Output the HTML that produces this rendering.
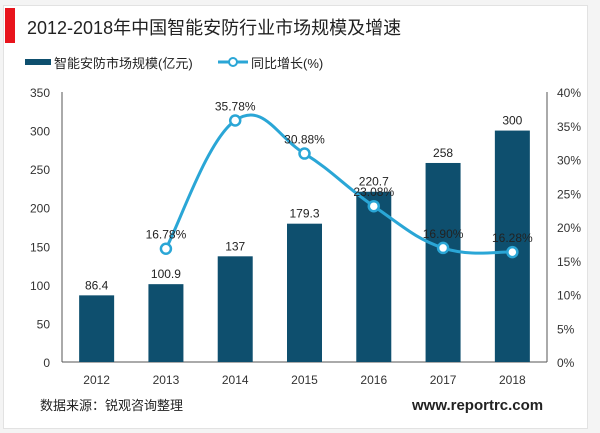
<!DOCTYPE html>
<html><head><meta charset="utf-8"><style>
body{margin:0;width:600px;height:433px;background:#f4f4f4;font-family:"Liberation Sans","Noto Sans CJK SC",sans-serif;overflow:hidden}
#card{position:absolute;left:3px;top:5px;width:583px;height:422px;background:#fff;border:1px solid #e2e2e2}
</style></head><body>
<div id="card"></div>
<svg width="600" height="433" style="position:absolute;left:0;top:0" font-family="Liberation Sans, Noto Sans CJK SC, sans-serif">
<rect x="5" y="8" width="10" height="35" fill="#e8141c"/>
<text x="27" y="34" font-size="18" fill="#222">2012-2018年中国智能安防行业市场规模及增速</text>
<g>
<rect x="25" y="59" width="26" height="6" fill="#0e4f6e"/>
<text x="54" y="68" font-size="13" fill="#222">智能安防市场规模(亿元)</text>
<line x1="218" y1="62" x2="248" y2="62" stroke="#2aa6d6" stroke-width="3"/>
<circle cx="233" cy="62" r="4" fill="#fff" stroke="#2aa6d6" stroke-width="2"/>
<text x="251" y="68" font-size="13" fill="#222">同比增长(%)</text>
</g>
<g id="plot"></g>
<text x="40" y="410" font-size="13" fill="#222">数据来源：锐观咨询整理</text>
<text x="412" y="410" font-size="15" font-weight="bold" fill="#222">www.reportrc.com</text>
</svg>
<script>
const years=["2012","2013","2014","2015","2016","2017","2018"];
const sizes=[86.4,100.9,137,179.3,220.7,258,300];
const growth=[null,16.78,35.78,30.88,23.08,16.90,16.28];
const leftTicks=[0,50,100,150,200,250,300,350];
const rightTicks=[0,5,10,15,20,25,30,35,40];
const NS="http://www.w3.org/2000/svg";
const g=document.getElementById('plot');
const x0=62,x1=547,yTop=92,yBot=362;
const band=(x1-x0)/years.length;
const xc=i=>x0+band*(i+0.5);
const yL=v=>yBot-(v/350)*(yBot-yTop);
const yR=v=>yBot-(v/40)*(yBot-yTop);
function mk(t,a,txt){const e=document.createElementNS(NS,t);for(const k in a)e.setAttribute(k,a[k]);if(txt!=null)e.textContent=txt;g.appendChild(e);return e;}
leftTicks.forEach(v=>{const e=mk('text',{x:50,y:yL(v)+5,'font-size':12,fill:'#333','text-anchor':'end'},v);

});
rightTicks.forEach(v=>{const e=mk('text',{x:557,y:yR(v)+5,'font-size':12,fill:'#333'},v+'%');

});
let e=mk('line',{x1:x0,y1:yTop,x2:x0,y2:yBot,stroke:'#555'});


e=mk('line',{x1:x1,y1:yTop,x2:x1,y2:yBot,stroke:'#555'});


e=mk('line',{x1:x0,y1:yBot,x2:x1,y2:yBot,stroke:'#555'});


years.forEach((y,i)=>{
 const b=mk('rect',{x:xc(i)-17.5,y:yL(sizes[i]),width:35,height:yBot-yL(sizes[i]),fill:'#0e4f6e'});
 
 
 const l=mk('text',{x:xc(i),y:yL(sizes[i])-6,'font-size':12,fill:'#222','text-anchor':'middle'},sizes[i]);
 
 
 const t=mk('text',{x:xc(i),y:384,'font-size':12,fill:'#333','text-anchor':'middle'},y);
 
 
});
const pts=[];growth.forEach((v,i)=>{if(v!=null)pts.push([xc(i),yR(v)]);});
let d='M'+pts[0][0]+','+pts[0][1];
for(let i=0;i<pts.length-1;i++){const p0=pts[i-1]||pts[i],p1=pts[i],p2=pts[i+1],p3=pts[i+2]||p2;const s=0.2;
d+=' C'+(p1[0]+(p2[0]-p0[0])*s)+','+(p1[1]+(p2[1]-p0[1])*s)+' '+(p2[0]-(p3[0]-p1[0])*s)+','+(p2[1]-(p3[1]-p1[1])*s)+' '+p2[0]+','+p2[1];}
e=mk('path',{d:d,fill:'none',stroke:'#2aa6d6','stroke-width':3});


growth.forEach((v,i)=>{if(v==null)return;
 const c=mk('circle',{cx:xc(i),cy:yR(v),r:5,fill:'#fff',stroke:'#2aa6d6','stroke-width':2.5});
 
 
 const t=mk('text',{x:xc(i),y:yR(v)-10,'font-size':12,fill:'#222','text-anchor':'middle'},v.toFixed(2)+'%');
 
 
});
</script>
</body></html>
